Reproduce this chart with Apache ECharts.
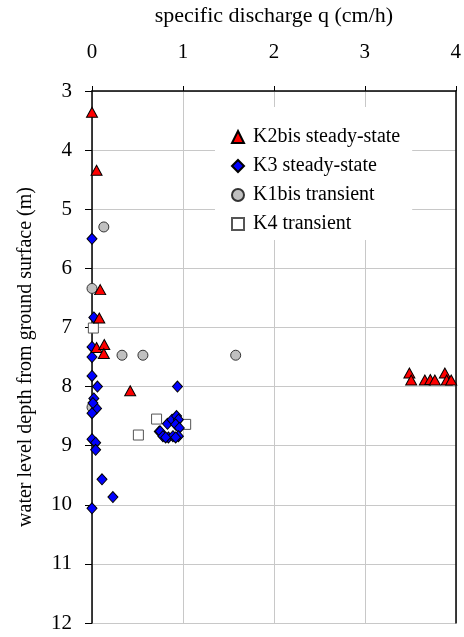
<!DOCTYPE html>
<html><head><meta charset="utf-8">
<script src="https://cdn.jsdelivr.net/npm/echarts@6/dist/echarts.min.js"></script>
<style>html,body{margin:0;padding:0;background:#fff}#c{width:464px;height:637px}</style>
</head><body><div id="c"></div>
<script>
// [q (cm/h), depth (m)]
const k2bisSteady = [[0,3.36],[0.05,4.34],[0.09,6.36],[0.08,6.84],[0.05,7.34],[0.135,7.29],[0.13,7.44],[0.42,8.07],
  [3.49,7.77],[3.51,7.89],[3.66,7.89],[3.72,7.88],[3.77,7.89],[3.88,7.77],[3.90,7.89],[3.95,7.89]];
const k3Steady = [[0,5.5],[0.02,6.83],[0,7.33],[0,7.5],[0,7.82],[0.06,8.0],[0.02,8.2],[0.05,8.37],[0.01,8.28],[0,8.45],
  [0,8.89],[0.04,8.95],[0.04,9.07],[0.11,9.57],[0.23,9.87],[0,10.06],
  [0.94,8.0],[0.74,8.76],[0.83,8.63],[0.88,8.56],[0.93,8.5],[0.95,8.56],[0.92,8.64],[0.96,8.70],[0.75,8.76],
  [0.78,8.84],[0.84,8.86],[0.89,8.84],[0.95,8.84],[0.81,8.86],[0.92,8.86]];
const k1bisTransient = [[0.13,5.30],[0,6.34],[0.33,7.47],[0.56,7.47],[1.58,7.47],[0,8.35]];
const k4Transient = [[0.015,7.01],[0.51,8.82],[0.71,8.55],[1.03,8.64]];
const xTicks = [0,1,2,3,4];
const yTicks = [3,4,5,6,7,8,9,10,11,12];

const FONT = 'Liberation Serif';
const chart = echarts.init(document.getElementById('c'));
chart.setOption({
  animation:false,
  backgroundColor:'#fff',
  textStyle:{fontFamily:FONT,color:'#000'},
  grid:{left:92,right:8,top:87,bottom:14},
  legend:{
    left:215, top:107, orient:'vertical', itemGap:9, itemWidth:12, itemHeight:12,
    backgroundColor:'#fff', padding:[20,12,6,16],
    textStyle:{fontFamily:FONT,fontSize:20,color:'#000',padding:[0,0,0,4]},
    data:['K2bis steady-state','K3 steady-state','K1bis transient','K4 transient']
  },
  xAxis:{
    type:'value', position:'top', min:xTicks[0], max:xTicks[xTicks.length-1], interval:1,
    name:'specific discharge q (cm/h)', nameLocation:'middle', nameGap:64,
    nameTextStyle:{fontFamily:FONT,fontSize:22,color:'#000'},
    axisLine:{show:true,lineStyle:{color:'#000',width:1.5}},
    axisTick:{show:true,inside:false,length:5,lineStyle:{color:'#000'}},
    axisLabel:{fontFamily:FONT,fontSize:21,color:'#000',margin:28},
    splitLine:{show:true,lineStyle:{color:'#c8c8c8',width:1}}
  },
  yAxis:[{
    type:'value', inverse:true, min:yTicks[0], max:yTicks[yTicks.length-1], interval:1,
    name:'water level depth from ground surface (m)', nameLocation:'middle', nameGap:56, nameRotate:90,
    nameTextStyle:{fontFamily:FONT,fontSize:20,color:'#000'},
    axisLine:{show:true,lineStyle:{color:'#000',width:1.5}},
    axisTick:{show:true,inside:false,length:7,lineStyle:{color:'#000'}},
    axisLabel:{fontFamily:FONT,fontSize:21,color:'#000',margin:20},
    splitLine:{show:true,lineStyle:{color:'#c8c8c8',width:1}}
  },{
    type:'value', inverse:true, min:yTicks[0], max:yTicks[yTicks.length-1], interval:1, position:'right',
    axisLine:{show:true,onZero:false,lineStyle:{color:'#000',width:1.5}},
    axisTick:{show:false}, axisLabel:{show:false}, splitLine:{show:false}
  }],
  series:[
    {name:'K4 transient',type:'scatter',symbol:'rect',symbolSize:10,data:k4Transient,z:2,
      itemStyle:{color:'#fff',borderColor:'#555',borderWidth:1,opacity:1}},
    {name:'K1bis transient',type:'scatter',symbol:'circle',symbolSize:10,data:k1bisTransient,z:3,
      itemStyle:{color:'#c0c0c0',borderColor:'#333',borderWidth:1,opacity:1}},
    {name:'K3 steady-state',type:'scatter',symbol:'diamond',symbolSize:[10,11],data:k3Steady,z:4,
      itemStyle:{color:'#0000ff',borderColor:'#000',borderWidth:1,opacity:1}},
    {name:'K2bis steady-state',type:'scatter',symbol:'triangle',symbolSize:[11,10],data:k2bisSteady,z:5,
      itemStyle:{color:'#ff0000',borderColor:'#000',borderWidth:1,opacity:1}}
  ]
});
</script></body></html>
